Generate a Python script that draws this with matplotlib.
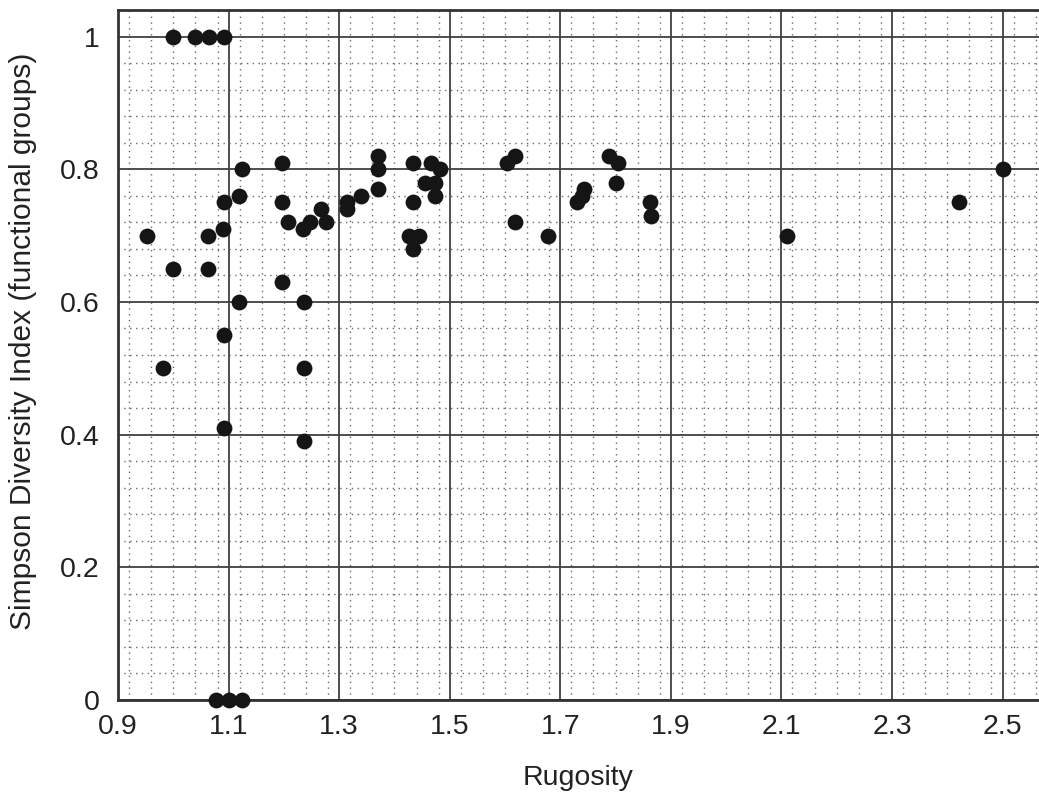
import numpy as np
import matplotlib

matplotlib.use("Agg")
import matplotlib.pyplot as plt
from matplotlib.ticker import MultipleLocator, FixedLocator

plt.rcParams["font.family"] = ["Liberation Sans", "DejaVu Sans"]

# rugosity vs Simpson diversity (functional groups)
rugosity = [
    0.999, 1.039, 1.064, 1.092,
    1.078, 1.100, 1.125,
    0.952, 0.999, 1.063, 1.063, 1.089, 1.092, 1.118, 1.124,
    1.196, 1.196, 1.208, 1.234, 1.247, 1.268, 1.276, 1.315, 1.315,
    1.196, 1.118, 1.236, 1.092, 0.981, 1.236, 1.092, 1.236,
    1.340, 1.370, 1.370, 1.370, 1.434, 1.467, 1.483, 1.456, 1.474, 1.474,
    1.434, 1.427, 1.445, 1.434,
    1.603, 1.618, 1.618, 1.677,
    1.788, 1.805, 1.800, 1.743, 1.740, 1.731, 1.862, 1.865,
    2.111, 2.421, 2.500,
]
simpson = [
    1.00, 1.00, 1.00, 1.00,
    0.00, 0.00, 0.00,
    0.70, 0.65, 0.70, 0.65, 0.71, 0.75, 0.76, 0.80,
    0.81, 0.75, 0.72, 0.71, 0.72, 0.74, 0.72, 0.75, 0.74,
    0.63, 0.60, 0.60, 0.55, 0.50, 0.50, 0.41, 0.39,
    0.76, 0.82, 0.80, 0.77, 0.81, 0.81, 0.80, 0.78, 0.78, 0.76,
    0.75, 0.70, 0.70, 0.68,
    0.81, 0.82, 0.72, 0.70,
    0.82, 0.81, 0.78, 0.77, 0.76, 0.75, 0.75, 0.73,
    0.70, 0.75, 0.80,
]
x_ticks = [0.9, 1.1, 1.3, 1.5, 1.7, 1.9, 2.1, 2.3, 2.5]
y_ticks = [0, 0.2, 0.4, 0.6, 0.8, 1.0]
y_tick_labels = ["0", "0.2", "0.4", "0.6", "0.8", "1"]

fig = plt.figure(figsize=(10.39, 7.96), dpi=100)
ax = fig.add_axes([0.1136, 0.1206, 0.8864, 0.8668])

ax.scatter(rugosity, simpson, s=130, c="#151515", zorder=3, clip_on=False,
           linewidths=0)

ax.set_xlim(0.9, 2.566)
ax.set_ylim(0, 1.04)
ax.xaxis.set_major_locator(FixedLocator(x_ticks))
ax.yaxis.set_major_locator(FixedLocator(y_ticks))
ax.set_xticklabels([f"{v:g}" for v in x_ticks])
ax.set_yticklabels(y_tick_labels)
ax.xaxis.set_minor_locator(MultipleLocator(0.04))
ax.yaxis.set_minor_locator(MultipleLocator(0.04))

ax.grid(True, which="major", color="#404040", lw=1.3, zorder=1)
ax.grid(True, which="minor", color="#6a6a6a", lw=1.0, ls=(0, (1, 3.2)),
        zorder=0)
ax.tick_params(which="both", length=0)
ax.tick_params(axis="x", labelsize=20.5, pad=10, colors="#222222")
ax.tick_params(axis="y", labelsize=20.5, pad=13, colors="#222222")

for side in ("left", "bottom", "top"):
    ax.spines[side].set_linewidth(2)
    ax.spines[side].set_color("#333333")
ax.spines["right"].set_visible(False)

ax.set_xlabel("Rugosity", fontsize=20.5, labelpad=18, color="#222222")
ax.set_ylabel("Simpson Diversity Index (functional groups)", fontsize=21.5,
              color="#222222")
ax.yaxis.set_label_coords(-0.088, 0.52)

fig.savefig("out.png", dpi=100)
